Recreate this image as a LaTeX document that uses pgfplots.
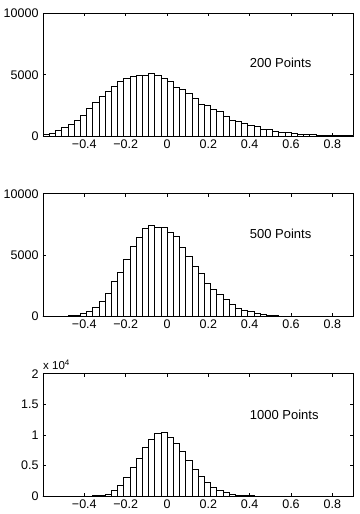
\documentclass[border=0pt]{standalone}
\usepackage{fontspec}
\setmainfont{Liberation Sans}
\usepackage{pgfplots}
\pgfplotsset{compat=1.18}

% bin left edges -0.6, -0.57, ..., 0.87 (width 0.03), last point closes at 0.9
\pgfplotsset{
  histax/.style={
    scale only axis, width=310pt, height=122.5pt,
    anchor=south west,
    xmin=-0.6, xmax=0.9, ymin=0,
    scaled y ticks=false,
    xtick={-0.4,-0.2,0,0.2,0.4,0.6,0.8},
    xticklabels={−0.4,−0.2,0,0.2,0.4,0.6,0.8},
    tick align=inside, major tick length=3pt,
    axis line style={line width=0.6pt},
    tick style={line width=0.6pt, black},
    ticklabel style={font=\fontsize{12.5}{14}\selectfont},
    yticklabel style={xshift=-1pt},
  },
  histbar/.style={ybar interval, fill=white, draw=black, line width=0.55pt},
}
\tikzset{lbl/.style={anchor=west, inner sep=0pt, font=\fontsize{13}{15}\selectfont}}

\begin{document}
\begin{tikzpicture}
\useasboundingbox (0,0) rectangle (359pt,514pt);

%% 200 points
\begin{axis}[histax, at={(43pt,378pt)}, ymax=10000,
  ytick={0,5000,10000}, yticklabels={0,5000,10000}]
\addplot[histbar] coordinates {
 (-0.60,130) (-0.57,250) (-0.54,450) (-0.51,710) (-0.48,960)
 (-0.45,1280) (-0.42,1700) (-0.39,2260) (-0.36,2790) (-0.33,3240)
 (-0.30,3660) (-0.27,4070) (-0.24,4500) (-0.21,4740) (-0.18,4890)
 (-0.15,4990) (-0.12,4990) (-0.09,5120) (-0.06,4920) (-0.03,4680)
 (0.00,4480) (0.03,3990) (0.06,3800) (0.09,3500) (0.12,3040)
 (0.15,2620) (0.18,2480) (0.21,2160) (0.24,1990) (0.27,1640)
 (0.30,1290) (0.33,1190) (0.36,1060) (0.39,870) (0.42,770)
 (0.45,560) (0.48,540) (0.51,390) (0.54,330) (0.57,270)
 (0.60,220) (0.63,150) (0.66,120) (0.69,110) (0.72,70)
 (0.75,60) (0.78,50) (0.81,40) (0.84,30) (0.87,60) (0.90,60)};
\node[lbl] at (axis cs:0.4,6000) {200 Points};
\end{axis}

%% 500 points
\begin{axis}[histax, at={(43pt,197.7pt)}, ymax=10000,
  ytick={0,5000,10000}, yticklabels={0,5000,10000}]
\addplot[histbar] coordinates {
 (-0.60,0) (-0.57,0) (-0.54,0) (-0.51,20) (-0.48,50)
 (-0.45,90) (-0.42,220) (-0.39,400) (-0.36,770) (-0.33,1200)
 (-0.30,1860) (-0.27,2880) (-0.24,3620) (-0.21,4650) (-0.18,5720)
 (-0.15,6450) (-0.12,7170) (-0.09,7450) (-0.06,7290) (-0.03,7230)
 (0.00,6840) (0.03,6520) (0.06,5660) (0.09,4860) (0.12,4050)
 (0.15,3500) (0.18,2690) (0.21,2200) (0.24,1770) (0.27,1400)
 (0.30,1020) (0.33,680) (0.36,510) (0.39,380) (0.42,280)
 (0.45,200) (0.48,120) (0.51,70) (0.54,40) (0.57,40)
 (0.60,30) (0.63,20) (0.66,10) (0.69,10) (0.72,0)
 (0.75,0) (0.78,0) (0.81,0) (0.84,0) (0.87,0) (0.90,0)};
\node[lbl] at (axis cs:0.4,6700) {500 Points};
\end{axis}

%% 1000 points
\begin{axis}[histax, name=ax3, at={(43pt,17.7pt)}, ymax=20000,
  ytick={0,5000,10000,15000,20000}, yticklabels={0,0.5,1,1.5,2}]
\addplot[histbar] coordinates {
 (-0.60,0) (-0.57,0) (-0.54,0) (-0.51,0) (-0.48,0)
 (-0.45,0) (-0.42,20) (-0.39,70) (-0.36,150) (-0.33,220)
 (-0.30,400) (-0.27,940) (-0.24,1720) (-0.21,3040) (-0.18,4660)
 (-0.15,6150) (-0.12,7970) (-0.09,9380) (-0.06,10300) (-0.03,10400)
 (0.00,9680) (0.03,8680) (0.06,7280) (0.09,5800) (0.12,4450)
 (0.15,3230) (0.18,2330) (0.21,1490) (0.24,950) (0.27,620)
 (0.30,400) (0.33,240) (0.36,160) (0.39,100) (0.42,50)
 (0.45,30) (0.48,0) (0.51,0) (0.54,0) (0.57,0)
 (0.60,0) (0.63,0) (0.66,0) (0.69,0) (0.72,0)
 (0.75,0) (0.78,0) (0.81,0) (0.84,0) (0.87,0) (0.90,0)};
\node[lbl] at (axis cs:0.4,13300) {1000 Points};
\end{axis}
\node[anchor=south west, inner sep=0pt, yshift=4pt,
  font=\fontsize{11.5}{13}\selectfont] at (ax3.north west) {x 10\textsuperscript{4}};
\end{tikzpicture}
\end{document}
